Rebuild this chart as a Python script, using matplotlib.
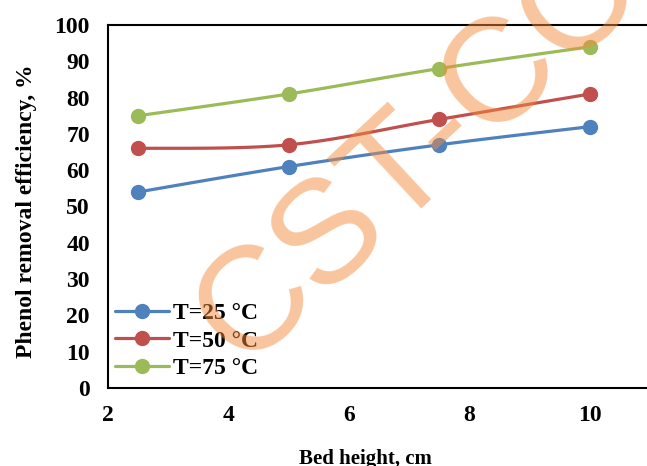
import numpy as np
import matplotlib
matplotlib.use("Agg")
import matplotlib.pyplot as plt

# bed height (cm) and phenol removal efficiency (%) at three temperatures
bed_height = [2.5, 5, 7.5, 10]
eff_25 = [54, 61, 67, 72]
eff_50 = [66, 67, 74, 81]
eff_75 = [75, 81, 88, 94]
labels = ["T=25 °C", "T=50 °C", "T=75 °C"]
colors = ["#4F81BD", "#C0504D", "#9BBB59"]

x_ticks = [2, 4, 6, 8, 10, 12]
y_ticks = list(range(0, 101, 10))


def smooth(xs, ys, n=40):
    # Catmull-Rom style bezier, like a spreadsheet "smoothed line"
    p = np.column_stack([xs, ys]).astype(float)
    pts = [p[0]]
    idx = [0]
    for i in range(len(p) - 1):
        p0 = p[i - 1] if i > 0 else p[i]
        p3 = p[i + 2] if i + 2 < len(p) else p[i + 1]
        c1 = p[i] + (p[i + 1] - p0) / 6
        c2 = p[i + 1] - (p3 - p[i]) / 6
        t = np.linspace(0, 1, n)[1:, None]
        seg = ((1 - t) ** 3 * p[i] + 3 * (1 - t) ** 2 * t * c1
               + 3 * (1 - t) * t ** 2 * c2 + t ** 3 * p[i + 1])
        pts.extend(seg)
        idx.append(len(pts) - 1)
    pts = np.array(pts)
    return pts[:, 0], pts[:, 1], idx


plt.rcParams['font.family'] = ['Liberation Serif', 'DejaVu Serif']
plt.rcParams['font.weight'] = 'bold'

fig = plt.figure(figsize=(6.47, 4.66), dpi=100)
W, H = 647, 466
ax = fig.add_axes([108 / W, (H - 388) / H, 602.5 / W, 363 / H])

for ys, lab, c in zip([eff_25, eff_50, eff_75], labels, colors):
    sx, sy, idx = smooth(bed_height, ys)
    ax.plot(sx, sy, color=c, lw=2.3, marker='o', markersize=10,
            markevery=idx, label=lab, solid_capstyle='round')

ax.set_xlim(2, 12)
ax.set_ylim(0, 100)
ax.set_xticks(x_ticks)
ax.set_yticks(y_ticks)
ax.tick_params(length=0, labelsize=17)
ax.tick_params(axis='x', pad=12)
ax.tick_params(axis='y', pad=13)
for lbl in ax.get_xticklabels() + ax.get_yticklabels():
    lbl.set_fontweight('bold')
for s in ax.spines.values():
    s.set_linewidth(1.5)
    s.set_color('black')

ax.set_xlabel("Bed height, cm", fontsize=15, fontweight='bold')
ax.xaxis.set_label_coords((365.5 - 108) / 602.5, -(449 - 388) / 363)
ax.set_ylabel("Phenol removal efficiency, %", fontsize=17, fontweight='bold')
ax.yaxis.set_label_coords(-(108 - 37) / 602.5, (388 - 211) / 363)

leg = ax.legend(loc='lower left', bbox_to_anchor=(0.0, 0.005), frameon=False,
                fontsize=17, handlelength=2.3, handletextpad=0.15,
                labelspacing=0.25, borderpad=0.3, borderaxespad=0.0)
for t in leg.get_texts():
    t.set_fontweight('bold')

# watermark stamped across the plot
fig.text(420 / W, 1 - 151 / H, "CST-CO", rotation=43, rotation_mode='anchor',
         ha='center', va='center', fontsize=106, family='Liberation Sans',
         fontweight='normal', color='#F28C3C', alpha=0.5, zorder=10)

fig.savefig("out.png", dpi=100)
